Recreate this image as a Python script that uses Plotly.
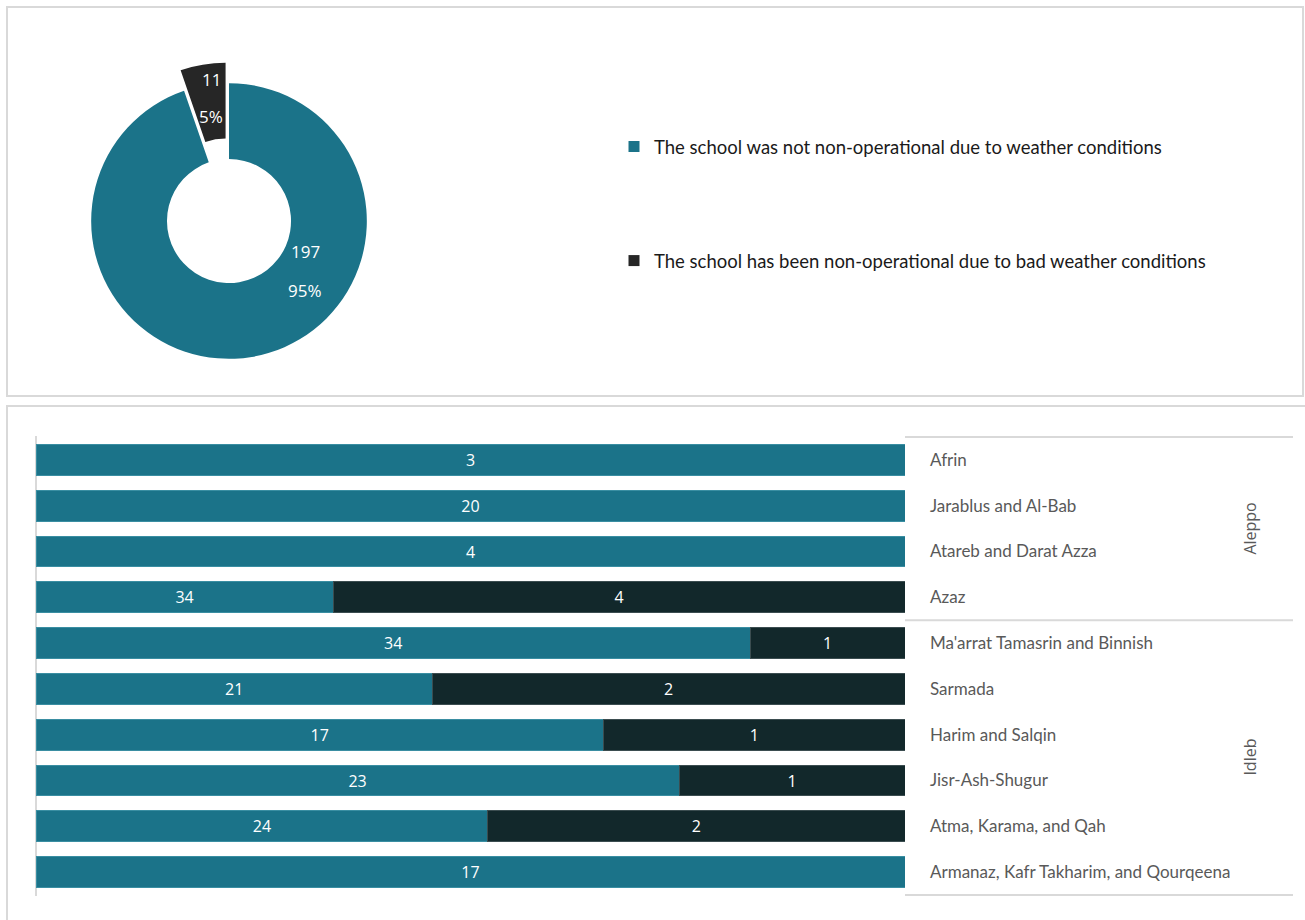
import plotly.graph_objects as go

# ---- data ----
pie_labels = ["The school was not non-operational due to weather conditions",
              "The school has been non-operational due to bad weather conditions"]
pie_values = [197, 11]
pie_colors = ["#1b7389", "#262626"]

governorates = ["Aleppo", "Aleppo", "Aleppo", "Aleppo",
                "Idleb", "Idleb", "Idleb", "Idleb", "Idleb", "Idleb"]
districts = ["Afrin", "Jarablus and Al-Bab", "Atareb and Darat Azza", "Azaz",
             "Ma'arrat Tamasrin and Binnish", "Sarmada", "Harim and Salqin",
             "Jisr-Ash-Shugur", "Atma, Karama, and Qah",
             "Armanaz, Kafr Takharim, and Qourqeena"]
not_closed_share = [100, 100, 100, 34.2, 82.2, 45.6, 65.3, 74.0, 52.0, 100]
closed_share = [0, 0, 0, 65.8, 17.8, 54.4, 34.7, 26.0, 48.0, 0]
not_closed_count = [3, 20, 4, 34, 34, 21, 17, 23, 24, 17]
closed_count = [0, 0, 0, 4, 1, 2, 1, 1, 2, 0]

W, H = 1305, 920
def px(x): return x / W
def py(y): return 1 - y / H

TEAL = "#1b7389"
DARK = "#12282b"
GRID = "#d9d9d9"

fig = go.Figure()

fig.add_trace(go.Pie(
    labels=pie_labels, values=pie_values, hole=0.45,
    direction="clockwise", rotation=0, sort=False,
    pull=[0, 0.15],
    marker=dict(colors=pie_colors, line=dict(width=0)),
    textinfo="none",
    domain=dict(x=[px(70.5), px(387.5)], y=[py(379.5), py(62.5)]),
    showlegend=False, hoverinfo="skip",
))

# legend entries for the pie
for lab, col in zip(pie_labels, pie_colors):
    fig.add_trace(go.Scatter(
        x=[None], y=[None], mode="markers", name=lab, legendgroup=lab,
        marker=dict(symbol="square", size=11, color=col),
    ))

fig.add_trace(go.Bar(
    y=districts, x=not_closed_share, orientation="h",
    marker=dict(color=TEAL, line=dict(color="#3a8ea2", width=1)),
    text=[str(c) if c else "" for c in not_closed_count],
    textposition="inside", insidetextanchor="middle",
    textfont=dict(family="Open Sans", size=16, color="white"),
    showlegend=False, hoverinfo="skip",
))
fig.add_trace(go.Bar(
    y=districts, x=closed_share, orientation="h",
    marker=dict(color=DARK, line=dict(color="#3b4d50", width=1)),
    text=[str(c) if c else "" for c in closed_count],
    textposition="inside", insidetextanchor="middle",
    textfont=dict(family="Open Sans", size=16, color="white"),
    showlegend=False, hoverinfo="skip",
))

shapes = [
    dict(type="rect", xref="paper", yref="paper", x0=px(7), x1=px(1303),
         y0=py(396), y1=py(7), line=dict(color=GRID, width=2)),
    dict(type="rect", xref="paper", yref="paper", x0=px(7), x1=px(1312),
         y0=py(930), y1=py(406), line=dict(color=GRID, width=2)),
]
# group separators on the right-hand axis
bounds = [-0.5]
for i in range(1, len(governorates)):
    if governorates[i] != governorates[i - 1]:
        bounds.append(i - 0.5)
bounds.append(len(governorates) - 0.5)
for b in bounds:
    shapes.append(dict(type="line", xref="paper", yref="y",
                       x0=px(905), x1=px(1293), y0=b, y1=b,
                       line=dict(color=GRID, width=2)))

annotations = []
groups = []
for g in governorates:
    if g not in groups:
        groups.append(g)
for g in groups:
    idx = [i for i, v in enumerate(governorates) if v == g]
    annotations.append(dict(
        text=g, xref="paper", yref="y", x=px(1250), y=(idx[0] + idx[-1]) / 2,
        xanchor="center", yanchor="middle",
        textangle=-90, showarrow=False,
        font=dict(family="Open Sans", size=16, color="#595959")))

# donut data labels (value and share on separate, widely spaced lines)
total = sum(pie_values)
label_pos = [(305, 271), (211, 98)]
for v, (lx, ly) in zip(pie_values, label_pos):
    for txt, dy in ((str(v), -19), (f"{round(100 * v / total)}%", 19)):
        annotations.append(dict(
            text=txt, xref="paper", yref="paper",
            x=px(lx), y=py(ly + dy), xanchor="center", yanchor="middle",
            showarrow=False,
            font=dict(family="Open Sans", size=17, color="white"),
        ))

fig.update_layout(
    width=W, height=H, margin=dict(l=0, r=0, t=0, b=0),
    paper_bgcolor="white", plot_bgcolor="white",
    barmode="stack", bargap=0.33,
    shapes=shapes, annotations=annotations,
    legend=dict(x=px(614), y=py(128), xanchor="left", yanchor="top",
                font=dict(family="Lato", size=18.5, color="#1a1a1a"),
                tracegroupgap=87, itemclick=False, itemdoubleclick=False,
                bgcolor="rgba(0,0,0,0)"),
    xaxis=dict(domain=[px(36), px(905)], range=[0, 100], showgrid=False,
               showticklabels=False, zeroline=True, zerolinecolor=GRID,
               zerolinewidth=2, fixedrange=True),
    yaxis=dict(domain=[py(896), py(436)], autorange="reversed", side="right",
               type="category", showgrid=False, showline=False, ticks="",
               ticklabelstandoff=24,
               tickfont=dict(family="Lato", size=17, color="#595959"),
               anchor="x", fixedrange=True),
)

fig.write_html("out.html")
